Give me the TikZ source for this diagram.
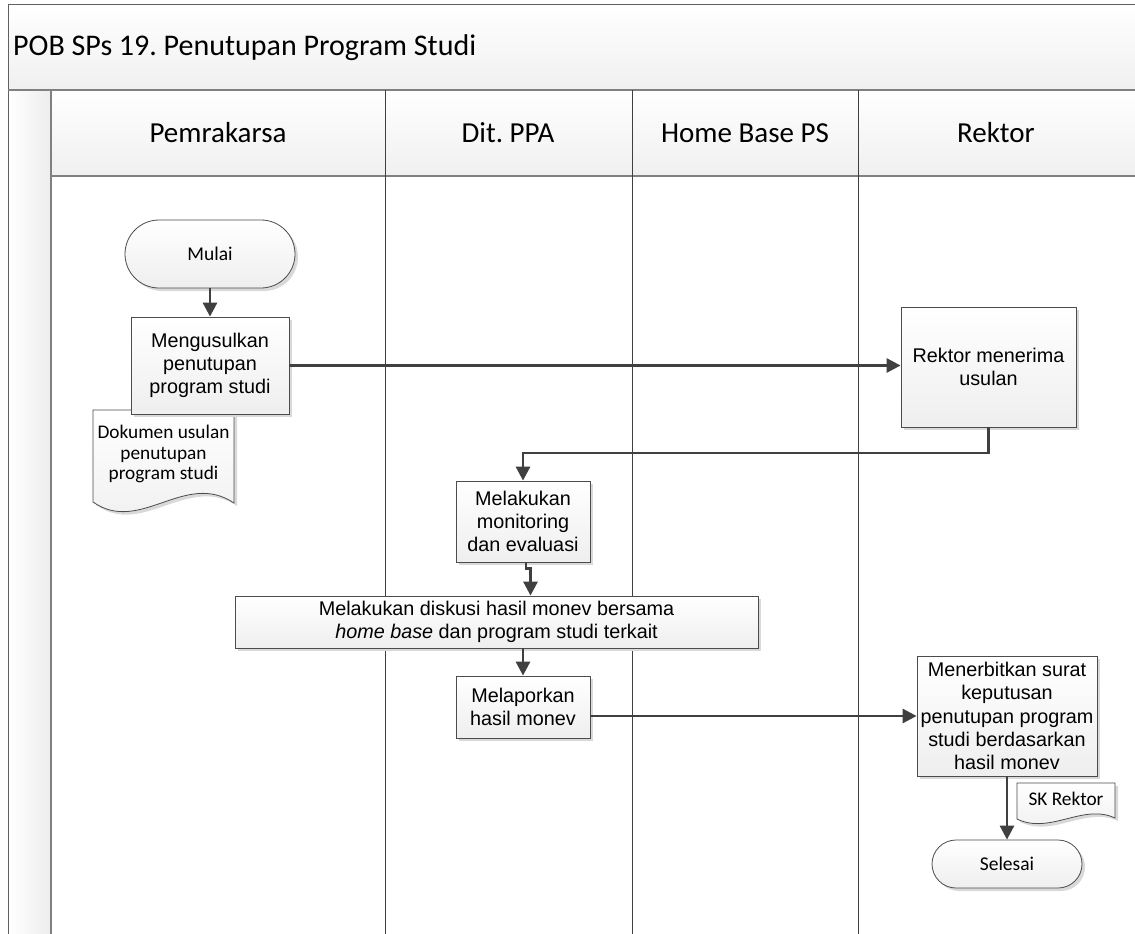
\documentclass[tikz,border=0pt]{standalone}
\usepackage{fontspec}
\setmainfont{Carlito}
\newfontfamily\arialf{Liberation Sans}
\usetikzlibrary{arrows.meta,shapes.misc,shadows,calc}
\frenchspacing
\begin{document}
\begin{tikzpicture}[x=1pt,y=-1pt,
  shad/.style={drop shadow={shadow xshift=3pt,shadow yshift=-3pt,fill=gray!30,opacity=1}},
  proc/.style={draw=gray!60!black,line width=0.8pt,top color=white,bottom color=gray!13,
    inner sep=0pt,align=center,font=\arialf\fontsize{19.8}{23.3}\selectfont,shad},
  term/.style={rounded rectangle,draw=gray!60!black,line width=0.8pt,top color=white,
    bottom color=gray!13,inner sep=0pt,font=\fontsize{19.5}{22}\selectfont,shad},
  docshape/.style={draw=gray!60!black,line width=0.8pt,top color=white,bottom color=gray!13},
  doctext/.style={align=center,inner sep=0pt,font=\fontsize{19.3}{20.5}\selectfont},
  hdr/.style={font=\fontsize{29}{32}\selectfont,inner sep=0pt},
  arr/.style={draw=black!75,line width=2.8pt,-{Triangle[length=14pt,width=14pt]}},
  frameline/.style={draw=gray!75!black,line width=1pt},
  bandline/.style={draw=gray,line width=1.8pt},
  laneline/.style={draw=black!75,line width=0.8pt}
]
\useasboundingbox (0,0) rectangle (1135,934);
\clip (0,0) rectangle (1135,934);
% backgrounds
\fill[white] (0,0) rectangle (1135,934);
\shade[top color=white,bottom color=gray!12] (8,5) rectangle (1140,90);
\shade[left color=white,right color=gray!14] (8,90) rectangle (51,940);
\shade[top color=white,bottom color=gray!12] (51,90) rectangle (1140,176);
% frame lines
\draw[frameline] (8,940) -- (8,5) -- (1140,5);
\draw[bandline] (8,90) -- (1140,90);
\draw[bandline] (51,90) -- (51,940);
\draw[bandline] (51,176) -- (1140,176);
\draw[laneline] (385,90) -- (385,940);
\draw[laneline] (632,90) -- (632,940);
\draw[laneline] (858,90) -- (858,940);
% title and headers
\node[hdr,anchor=west,font=\fontsize{30}{34}\selectfont] (title) at (13,48) {POB SPs 19. Penutupan Program Studi};
\node[hdr] (h1) at (218,133) {Pemrakarsa};
\node[hdr] (h2) at (508,133) {Dit. PPA};
\node[hdr] (h3) at (745,133) {Home Base PS};
\node[hdr] (h4) at (996,133) {Rektor};
% document 1
\fill[gray!30,shift={(3,3)}] (93,410) -- (234,410) -- (234,503) .. controls (185,470) and (140,535) .. (93,502) -- cycle;
\shade[docshape] (93,410) -- (234,410) -- (234,503) .. controls (185,470) and (140,535) .. (93,502) -- cycle;
\node[doctext] (dok) at (163.5,454) {Dokumen usulan\\penutupan\\program studi};
% SK doc
\fill[gray!30,shift={(3,3)}] (1017,783) -- (1115,783) -- (1115,818) .. controls (1083,803) and (1050,835) .. (1017,819) -- cycle;
\shade[docshape] (1017,783) -- (1115,783) -- (1115,818) .. controls (1083,803) and (1050,835) .. (1017,819) -- cycle;
\node[doctext] (sk) at (1066,799) {SK Rektor};
% nodes
\node[term,minimum width=170pt,minimum height=68pt] (mulai) at (210,254) {Mulai};
\node[proc,minimum width=158pt,minimum height=97pt] (usul) at (210,365.5) {Mengusulkan\\penutupan\\program studi};
\node[proc,minimum width=175pt,minimum height=120pt] (rektor) at (988.5,367) {Rektor menerima\\usulan};
\node[proc,minimum width=134pt,minimum height=81pt] (monev) at (523,521.5) {Melakukan\\monitoring\\dan evaluasi};
\node[proc,minimum width=523pt,minimum height=52pt] (disk) at (496.5,622) {Melakukan diskusi hasil monev bersama\\\textit{home base} dan program studi terkait};
\node[proc,minimum width=134pt,minimum height=62pt] (lapor) at (523,707) {Melaporkan\\hasil monev};
\node[proc,minimum width=180pt,minimum height=120pt] (terbit) at (1007,716) {Menerbitkan surat\\keputusan\\penutupan program\\studi berdasarkan\\hasil monev};
\node[term,minimum width=150pt,minimum height=48pt] (selesai) at (1007,864) {Selesai};
\coordinate (c1) at (523,453);
% connectors
\draw[arr] (mulai.south) -- (usul.north);
\draw[arr] (usul.east) -- (usul.east -| rektor.west);
\draw[arr] (rektor.south) |- (c1) -- (monev.north);
\draw[arr] ([xshift=3pt]monev.south) -- ++(0,6) -| ([xshift=7.5pt]monev.south |- disk.north);
\draw[arr] (disk.south -| lapor.north) -- (lapor.north);
\draw[arr] (lapor.east |- terbit.west) -- (terbit.west);
\draw[arr] (terbit.south) -- (selesai.north);
\end{tikzpicture}
\end{document}
